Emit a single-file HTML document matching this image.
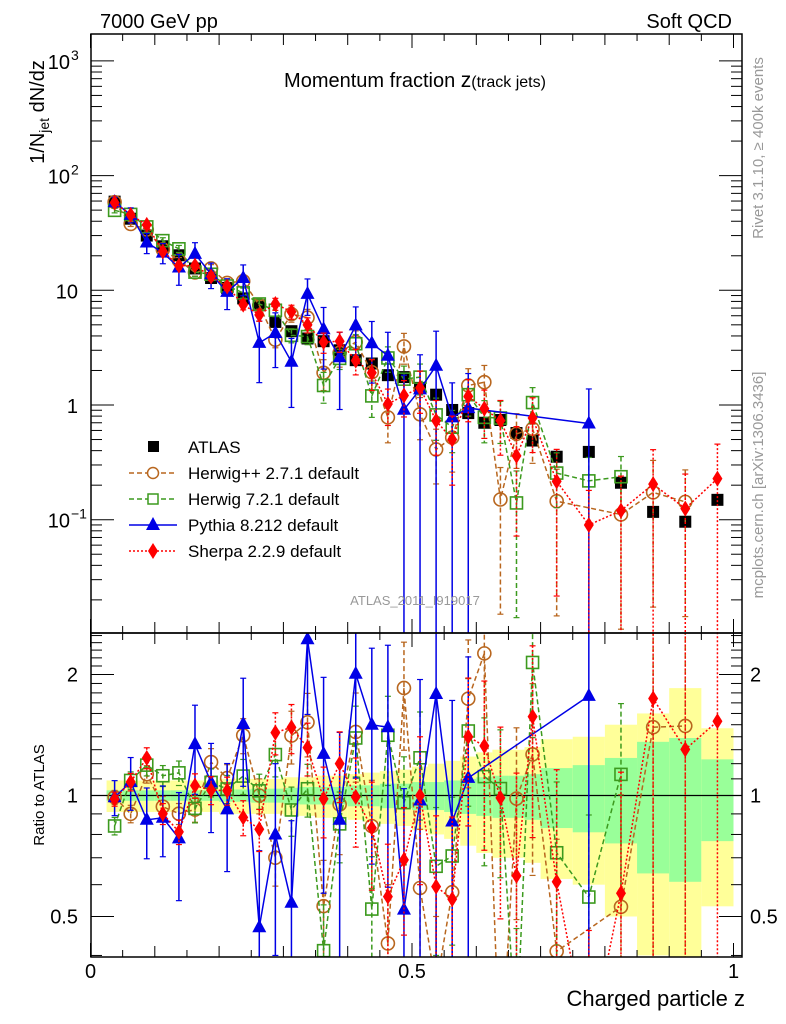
<!DOCTYPE html>
<html><head><meta charset="utf-8"><style>
html,body{margin:0;padding:0;background:#fff;width:786px;height:1024px;overflow:hidden;}
svg{display:block;font-family:"Liberation Sans",sans-serif;}
</style></head><body>
<svg id="chart" width="786" height="1024" viewBox="0 0 786 1024" xmlns="http://www.w3.org/2000/svg">
<defs>
<clipPath id="clipMain"><rect x="91" y="34" width="651" height="599"/></clipPath>
<clipPath id="clipRatio"><rect x="91" y="633" width="651" height="324"/></clipPath>
</defs>
<g id="bands" clip-path="url(#clipRatio)"></g>
<line x1="91" x2="742" y1="795.5" y2="795.5" stroke="#000" stroke-width="1.2"/>
<g id="axes"></g>
<g id="mainMarks" clip-path="url(#clipMain)"></g>
<g id="ratioMarks" clip-path="url(#clipRatio)"></g>
<rect x="91" y="34" width="651" height="599" fill="none" stroke="#000" stroke-width="1.5"/>
<rect x="91" y="633" width="651" height="324" fill="none" stroke="#000" stroke-width="1.5"/>
<text x="100" y="28" font-size="20">7000 GeV pp</text>
<text x="732" y="28" font-size="20" text-anchor="end">Soft QCD</text>
<text x="415" y="87" font-size="20" text-anchor="middle">Momentum fraction <tspan font-size="21">z</tspan><tspan font-size="16">(track jets)</tspan></text>
<text x="415" y="605" font-size="13" fill="#999" text-anchor="middle">ATLAS_2011_I919017</text>
<text transform="translate(44,112) rotate(-90)" font-size="20" text-anchor="middle">1/N<tspan font-size="14" dy="5">jet</tspan><tspan dy="-5"> dN/dz</tspan></text>
<text transform="translate(44,795) rotate(-90)" font-size="15" text-anchor="middle">Ratio to ATLAS</text>
<text transform="translate(763,148) rotate(-90)" font-size="15" fill="#999" text-anchor="middle">Rivet 3.1.10, ≥ 400k events</text>
<text transform="translate(763,485) rotate(-90)" font-size="15" fill="#999" text-anchor="middle">mcplots.cern.ch [arXiv:1306.3436]</text>
<text x="745" y="1006" font-size="22" text-anchor="end">Charged particle z</text>
<g id="legend"></g>
</svg>
<script>
const NS="http://www.w3.org/2000/svg";
const zVals=[0.0375,0.0625,0.0875,0.1125,0.1375,0.1625,0.1875,0.2125,0.2375,0.2625,0.2875,0.3125,0.3375,0.3625,0.3875,0.4125,0.4375,0.4625,0.4875,0.5125,0.5375,0.5625,0.5875,0.6125,0.6375,0.6625,0.6875,0.725,0.775,0.825,0.875,0.925,0.975];
const binLo=[0.025,0.05,0.075,0.1,0.125,0.15,0.175,0.2,0.225,0.25,0.275,0.3,0.325,0.35,0.375,0.4,0.425,0.45,0.475,0.5,0.525,0.55,0.575,0.6,0.625,0.65,0.675,0.7,0.75,0.8,0.85,0.9,0.95];
const binHi=[0.05,0.075,0.1,0.125,0.15,0.175,0.2,0.225,0.25,0.275,0.3,0.325,0.35,0.375,0.4,0.425,0.45,0.475,0.5,0.525,0.55,0.575,0.6,0.625,0.65,0.675,0.7,0.75,0.8,0.85,0.9,0.95,1.0];
const atlas=[59.3,42.1,30.0,24.2,20.2,15.5,12.8,10.5,8.5,7.4,5.3,4.4,3.8,3.6,3.0,2.46,2.3,1.82,1.75,1.41,1.23,0.905,0.85,0.70,0.74,0.57,0.49,0.354,0.39,0.21,0.117,0.096,0.149];
const atlasStat=[0.03,0.03,0.03,0.03,0.03,0.03,0.03,0.035,0.035,0.04,0.04,0.045,0.05,0.05,0.05,0.06,0.06,0.07,0.07,0.08,0.08,0.09,0.1,0.11,0.12,0.12,0.13,0.17,0.19,0.24,0.36,0.39,0.23];
const atlasTot=[0.09,0.09,0.09,0.09,0.09,0.09,0.09,0.1,0.1,0.1,0.1,0.11,0.11,0.12,0.12,0.13,0.14,0.15,0.16,0.18,0.2,0.22,0.25,0.28,0.3,0.3,0.32,0.38,0.4,0.5,0.6,0.85,0.47];
const herwigpp=[58.7,37.9,33.9,22.7,18.2,14.3,15.5,11.6,12.0,7.4,3.71,6.2,5.78,1.91,2.85,3.54,1.93,0.78,3.24,0.83,0.41,0.52,1.48,1.58,0.15,0.56,0.62,0.145,null,0.111,0.173,0.143,null];
const herwigppErr=[0.04,0.05,0.05,0.06,0.06,0.07,0.08,0.08,0.1,0.1,0.15,0.15,0.18,0.3,0.25,0.25,0.3,0.4,0.3,0.4,0.5,0.5,0.4,0.4,0.9,0.5,0.5,0.9,0,0.9,0.9,0.9,0];
const herwig7=[49.8,45.9,35.7,27.1,23.0,14.4,13.8,10.9,9.5,7.6,6.7,4.05,3.95,1.48,2.55,3.42,1.20,2.57,1.68,1.75,0.82,0.64,1.23,0.78,0.77,0.14,1.05,0.255,0.218,0.237,null,null,null];
const herwig7Err=[0.05,0.05,0.06,0.06,0.07,0.08,0.08,0.08,0.1,0.1,0.12,0.14,0.15,0.3,0.2,0.2,0.35,0.25,0.3,0.3,0.4,0.4,0.35,0.4,0.4,0.9,0.35,0.5,0.6,0.5,0,0,0];
const pythia=[58.7,45.5,26.1,21.3,15.8,20.8,13.8,9.7,12.8,3.48,4.24,2.38,9.3,4.57,2.61,4.94,3.45,2.69,0.91,1.37,2.20,0.78,0.94,null,null,null,null,null,0.69,null,null,null,null];
const pythiaErr=[0.1,0.15,0.2,0.2,0.3,0.25,0.25,0.3,0.3,0.55,0.5,0.6,0.35,0.55,0.65,0.45,0.55,0.6,1,1,1,1,1,0,0,0,0,0,1,0,0,0,0];
const sherpa=[58.1,45.5,37.2,21.8,16.4,16.4,13.2,10.8,7.5,6.1,7.6,6.5,5.0,3.53,3.6,2.44,1.91,1.02,1.21,1.41,0.73,0.50,1.19,0.93,0.73,0.36,0.77,0.216,0.090,0.120,0.204,0.125,0.228];
const sherpaErr=[0.04,0.05,0.06,0.06,0.07,0.07,0.08,0.08,0.1,0.12,0.12,0.14,0.15,0.2,0.2,0.25,0.3,0.35,0.35,0.4,0.5,0.6,0.4,0.45,0.5,0.8,0.5,0.9,1,1,1,1,1];
const yMainTickBase=["10","1","10","10","10"];
const yMainTickExp=["−1","","","2","3"];

const xPx=z=>90.5+643*z;
const yMain=v=>405-114.7*Math.log10(v);
const yRatio=r=>795.5-121*Math.log2(r);

function mk(tag,attrs,parent){const e=document.createElementNS(NS,tag);for(const k in attrs)e.setAttribute(k,attrs[k]);parent.appendChild(e);return e;}
const axes=document.getElementById('axes');
const mainG=document.getElementById('mainMarks');
const ratioG=document.getElementById('ratioMarks');
const bandG=document.getElementById('bands');

for(let i=0;i<zVals.length;i++){
  const x1=xPx(binLo[i]),x2=xPx(binHi[i]);
  const t=atlasTot[i],s=atlasStat[i];
  const yb=mk('rect',{x:x1,width:x2-x1,y:yRatio(1+t),height:yRatio(Math.max(1-t,0.05))-yRatio(1+t),fill:'#ffff99'},bandG);
  
  
  const gb=mk('rect',{x:x1,width:x2-x1,y:yRatio(1+s),height:yRatio(1-s)-yRatio(1+s),fill:'#99ff99'},bandG);
  
  
}

for(let k=0;k<=20;k++){
  const z=k*0.05,x=xPx(z),maj=(k%2===0);
  const L=maj?(k%10===0?14:11):7;
  [[34,1],[633,-1],[633,1],[957,-1]].forEach(([y,d])=>{mk('line',{x1:x,x2:x,y1:y,y2:y+d*L,stroke:'#000','stroke-width':1},axes);});
}
[["0",0],["0.5",0.5],["1",1]].forEach(([t,z])=>{
  const e=mk('text',{x:xPx(z),y:978,'font-size':20,'text-anchor':'middle'},axes);e.textContent=t;
  
  
});
for(let d=-2;d<=3;d++){
  for(let m=1;m<10;m++){
    const v=m*Math.pow(10,d),y=yMain(v);
    if(y<34||y>633)continue;
    const L=m===1?23:11;
    mk('line',{x1:91,x2:91+L,y1:y,y2:y,stroke:'#000','stroke-width':1},axes);
    mk('line',{x1:742,x2:742-L,y1:y,y2:y,stroke:'#000','stroke-width':1},axes);
  }
}
yMainTickBase.forEach((t,i)=>{
  const y=yMain(Math.pow(10,i-1));
  const e=mk('text',{x:yMainTickExp[i]?70:78,y:y+8,'font-size':20,'text-anchor':'end'},axes);
  e.textContent=t;
  
  
  if(yMainTickExp[i]){
    const s=mk('text',{x:71,y:y-1,'font-size':14},axes);s.textContent=yMainTickExp[i];
    
    
  }
});
[0.4,0.5,0.6,0.7,0.8,0.9,1,1.1,1.2,1.3,1.4,1.5,1.6,1.7,1.8,1.9,2,2.1,2.2,2.3,2.4,2.5].forEach(r=>{
  const y=yRatio(r);if(y<633||y>957)return;
  const maj=(r===0.5||r===1||r===2);const L=maj?23:11;
  mk('line',{x1:91,x2:91+L,y1:y,y2:y,stroke:'#000','stroke-width':1},axes);
  mk('line',{x1:742,x2:742-L,y1:y,y2:y,stroke:'#000','stroke-width':1},axes);
});
[["2",2],["1",1],["0.5",0.5]].forEach(([t,r])=>{
  const e=mk('text',{x:78,y:yRatio(r)+7,'font-size':20,'text-anchor':'end'},axes);e.textContent=t;
  
  
  const e2=mk('text',{x:750,y:yRatio(r)+7,'font-size':20},axes);e2.textContent=t;
  
  
});

function marker(g,type,x,y,color){
  let e;
  if(type==='square') e=mk('rect',{x:x-6,y:y-6,width:12,height:12,fill:'#000'},g);
  else if(type==='circle') e=mk('circle',{cx:x,cy:y,r:6.5,fill:'none',stroke:color,'stroke-width':1.6},g);
  else if(type==='osquare') e=mk('rect',{x:x-6,y:y-6,width:12,height:12,fill:'none',stroke:color,'stroke-width':1.6},g);
  else if(type==='tri') e=mk('polygon',{points:`${x},${y-8} ${x-7},${y+5} ${x+7},${y+5}`,fill:color},g);
  else e=mk('polygon',{points:`${x},${y-8} ${x-5},${y} ${x},${y+8} ${x+5},${y}`,fill:color},g);
  return e;
}
const series=[
 {name:'herwigpp',vals:herwigpp,err:herwigppErr,color:'#b8661e',dash:'5,3',m:'circle'},
 {name:'herwig7',vals:herwig7,err:herwig7Err,color:'#3c9a1e',dash:'5,3',m:'osquare'},
 {name:'pythia',vals:pythia,err:pythiaErr,color:'#0000e6',dash:'',m:'tri'},
 {name:'sherpa',vals:sherpa,err:sherpaErr,color:'#ff0000',dash:'2,2',m:'diamond'}
];
atlas.forEach((v,i)=>{
  const p=marker(mainG,'square',xPx(zVals[i]),yMain(v),'#000');
  
  
});
series.forEach(s=>{
  [[mainG,(v,i)=>yMain(v)],[ratioG,(v,i)=>yRatio(v/atlas[i])]].forEach(([g,yf])=>{
    let pts=[];
    s.vals.forEach((v,i)=>{if(v!==null)pts.push([xPx(zVals[i]),yf(v,i)]);});
    const path=mk('polyline',{points:pts.map(p=>p.join(',')).join(' '),fill:'none',stroke:s.color,'stroke-width':1.5},g);
    if(s.dash)path.setAttribute('stroke-dasharray',s.dash);
    
    
    s.vals.forEach((v,i)=>{
      if(v===null)return;
      const x=xPx(zVals[i]),e=s.err[i];
      const lo=Math.max(v*(1-e),1e-4),hi=v*(1+e);
      const eb=mk('line',{x1:x,x2:x,y1:yf(hi,i),y2:yf(lo,i),stroke:s.color,'stroke-width':1.5},g);
      if(s.dash)eb.setAttribute('stroke-dasharray',s.dash);
      
      
      mk('line',{x1:x-3,x2:x+3,y1:yf(hi,i),y2:yf(hi,i),stroke:s.color,'stroke-width':1.2},g);
      mk('line',{x1:x-3,x2:x+3,y1:yf(lo,i),y2:yf(lo,i),stroke:s.color,'stroke-width':1.2},g);
      const p=marker(g,s.m,x,yf(v,i),s.color);
      
      
    });
  });
});
const leg=document.getElementById('legend');
const legRows=[['ATLAS','square','#000',null],['Herwig++ 2.7.1 default','circle','#b8661e','5,3'],['Herwig 7.2.1 default','osquare','#3c9a1e','5,3'],['Pythia 8.212 default','tri','#0000e6',''],['Sherpa 2.2.9 default','diamond','#ff0000','2,2']];
legRows.forEach((r,k)=>{
  const y=447+26*k;
  const g=mk('g',{},leg);
  
  
  if(r[3]!==null){const l=mk('line',{x1:129,x2:177,y1:y,y2:y,stroke:r[2],'stroke-width':1.5},g);if(r[3])l.setAttribute('stroke-dasharray',r[3]);}
  if(r[1]==='square')mk('rect',{x:148,y:y-6,width:11,height:11,fill:'#000'},g);
  else if(r[1]==='circle')mk('circle',{cx:153,cy:y,r:5.5,fill:'#fff',stroke:r[2],'stroke-width':1.5},g);
  else if(r[1]==='osquare')mk('rect',{x:148,y:y-5,width:10,height:10,fill:'#fff',stroke:r[2],'stroke-width':1.5},g);
  else marker(g,r[1],153,y,r[2]);
  const t=mk('text',{x:188,y:y+6,'font-size':17},g);t.textContent=r[0];
});
</script>
</body></html>
